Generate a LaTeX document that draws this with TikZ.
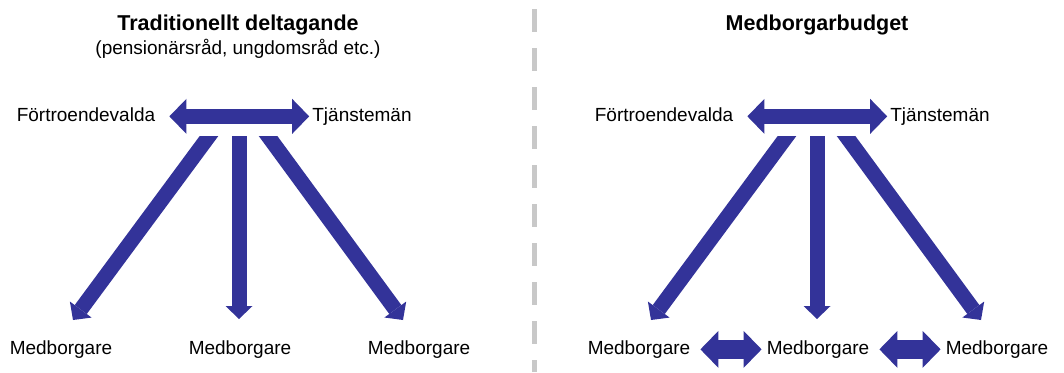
\documentclass[tikz,border=0pt]{standalone}
\usepackage{fontspec}
\setmainfont{Liberation Sans}
\usetikzlibrary{arrows.meta}
\definecolor{flow}{RGB}{51,51,153}
\definecolor{divider}{RGB}{200,200,200}

\begin{document}
\begin{tikzpicture}[x=1pt,y=-1pt,font=\fontsize{19}{23}\selectfont,
  lbl/.style={inner sep=0pt,anchor=base},
  heading/.style={lbl,font=\fontsize{21.5}{26}\selectfont\bfseries},
  wide/.style={draw=flow,line width=15pt,>={Triangle[length=17pt,width=35pt,line width=0pt]},<->,shorten <=14pt,shorten >=3pt},
  pair/.style={draw=flow,line width=19pt,>={Triangle[length=18pt,width=37pt,line width=0pt]},<->,shorten <=10pt,shorten >=5pt},
  down/.style={draw=flow,line width=15pt,>={Triangle[length=13pt,width=27pt,line width=0pt]},->}]
\useasboundingbox (0,0) rectangle (1064,372);
\draw[divider,line width=5pt,dash pattern=on 23pt off 16pt] (534,9) -- (534,372);
\node[heading] (titleL) at (238,30) {Traditionellt deltagande};
\node[lbl] (subL) at (238,54) {(pensionärsråd, ungdomsråd etc.)};
\node[heading] (titleR) at (817,30) {Medborgarbudget};
\foreach \p/\dx in {L/0,R/578}{
\begin{scope}[xshift=\dx]
\node[lbl] (fv\p) at (86,121) {Förtroendevalda};
\node[lbl] (tj\p) at (362,121) {Tjänstemän};
\draw[wide] ([yshift=2pt]fv\p.mid east) -- ([yshift=2pt]tj\p.mid west);
\foreach \i/\x in {1/61,2/240,3/419}{\node[lbl] (m\p\i) at (\x,354) {Medborgare};}
\begin{scope}
\clip (0,136) rectangle (532,372);
\foreach \i/\sx/\ex/\ey in {1/216.4/73/320,2/239/239/319,3/260.7/403/320}{
\coordinate (s\p\i) at (\sx,126);
\coordinate (e\p\i) at (\ex,\ey);
\draw[down] (s\p\i) -- (e\p\i);}
\end{scope}
\end{scope}}
\draw[pair] ([yshift=2pt]mR1.mid east) -- ([yshift=2pt]mR2.mid west);
\draw[pair] ([yshift=2pt]mR2.mid east) -- ([yshift=2pt]mR3.mid west);
\end{tikzpicture}
\end{document}
